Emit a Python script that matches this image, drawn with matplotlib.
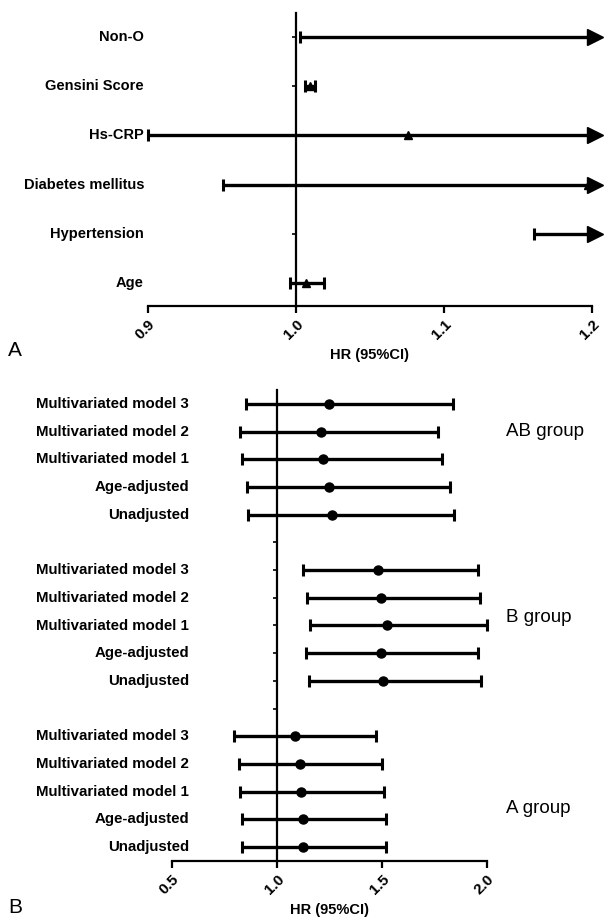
import numpy as np
import matplotlib.pyplot as plt
import matplotlib.transforms as mtransforms

plt.rcParams['font.family'] = ['Liberation Sans', 'DejaVu Sans']

# ---- panel A data (values off the right edge -> inf / nan)
a_labels = ["Non-O", "Gensini Score", "Hs-CRP", "Diabetes mellitus", "Hypertension", "Age"]
a_hr = [np.nan, 1.0097, 1.076, 1.197, np.nan, 1.0069]
a_low = [1.0025, 1.0064, 0.900, 0.951, 1.161, 0.9957]
a_high = [np.inf, 1.013, np.inf, np.inf, np.inf, 1.019]
a_ticks = [0.9, 1.0, 1.1, 1.2]

# ---- panel B data
b_rows = ["Multivariated model 3", "Multivariated model 2", "Multivariated model 1",
          "Age-adjusted", "Unadjusted"]
b_groups = ["AB group", "B group", "A group"]
ab_hr = [1.249, 1.209, 1.220, 1.249, 1.262]
ab_low = [0.851, 0.826, 0.833, 0.855, 0.864]
ab_high = [1.836, 1.768, 1.785, 1.825, 1.845]
bg_hr = [1.482, 1.497, 1.524, 1.493, 1.506]
bg_low = [1.123, 1.143, 1.159, 1.139, 1.150]
bg_high = [1.956, 1.967, 1.998, 1.956, 1.972]
ag_hr = [1.084, 1.108, 1.115, 1.123, 1.123]
ag_low = [0.794, 0.820, 0.826, 0.833, 0.831]
ag_high = [1.471, 1.501, 1.510, 1.517, 1.517]
b_ticks = [0.5, 1.0, 1.5, 2.0]

LW = 2.4
fig = plt.figure(figsize=(6.04, 9.22), dpi=100)


def style_axes(ax, xlim, ylim, yticks, xticks):
    ax.set_xlim(*xlim)
    ax.set_ylim(*ylim)
    for s in ['top', 'right']:
        ax.spines[s].set_visible(False)
    ax.spines['left'].set_position(('data', 1.0))
    ax.spines['left'].set_linewidth(1.6)
    ax.spines['bottom'].set_linewidth(1.6)
    ax.set_yticks(yticks)
    ax.set_yticklabels([])
    ax.tick_params(axis='y', length=3, width=1.2)
    ax.set_xticks(xticks)
    ax.set_xticklabels(["%.1f" % t for t in xticks], rotation=45, ha='right', va='top',
                       rotation_mode='anchor', fontsize=11, fontweight='bold')
    ax.tick_params(axis='x', length=5, width=1.6, pad=3)
    ax.patch.set_alpha(0)


def draw_row(ax, y, lo, hi, hr, xmax, marker, ms):
    right = min(hi, xmax)
    ax.plot([lo, right], [y, y], color='black', lw=LW, clip_on=False, solid_capstyle='butt')
    ax.plot(lo, y, marker='|', ms=9, mew=2.2, color='black', clip_on=False)
    if np.isfinite(hi):
        ax.plot(hi, y, marker='|', ms=9, mew=2.2, color='black', clip_on=False)
    else:
        ax.plot(xmax + 0.002, y, marker='>', ms=11, color='black', clip_on=False)
    if np.isfinite(hr):
        ax.plot(hr, y, marker=marker, ms=ms, color='black', clip_on=False)


# ---------------- Panel A
axA = fig.add_axes([148 / 604, 1 - 306 / 922, 444 / 604, 293 / 922])
ya = np.arange(len(a_labels), 0, -1)
style_axes(axA, (0.9, 1.2), (0.53, 6.49), ya, a_ticks)
trA = mtransforms.blended_transform_factory(axA.transAxes, axA.transData)
for y, lab, lo, hi, hr in zip(ya, a_labels, a_low, a_high, a_hr):
    draw_row(axA, y, lo, hi, hr, 1.2, '^', 6)
    axA.text(-0.009, y, lab, transform=trA, ha='right', va='center',
             fontsize=10.5, fontweight='bold')
axA.text(0.5, -49 / 293, "HR (95%CI)", transform=axA.transAxes, ha='center',
         va='center', fontsize=10.5, fontweight='bold')
fig.text(8 / 604, 1 - 350 / 922, "A", fontsize=15, va='center')

# ---------------- Panel B
axB = fig.add_axes([172 / 604, 1 - 861 / 922, 315 / 604, 471 / 922])
group_y = [17, 11, 5]
group_data = [(ab_hr, ab_low, ab_high), (bg_hr, bg_low, bg_high), (ag_hr, ag_low, ag_high)]
label_y = [16, 9.3, 2.4]
style_axes(axB, (0.5, 2.0), (0.5, 17.5), np.arange(1, 18), b_ticks)
trB = mtransforms.blended_transform_factory(axB.transAxes, axB.transData)
for top, (hrs, lows, highs), gname, gy in zip(group_y, group_data, b_groups, label_y):
    for i, lab in enumerate(b_rows):
        y = top - i
        draw_row(axB, y, lows[i], highs[i], hrs[i], 2.0, 'o', 6.5)
        axB.text(0.054, y, lab, transform=trB, ha='right', va='center',
                 fontsize=10.8, fontweight='bold')
    axB.text(1.06, gy, gname, transform=trB, ha='left', va='center', fontsize=13.5)
axB.text(0.5, -49 / 471, "HR (95%CI)", transform=axB.transAxes, ha='center',
         va='center', fontsize=10.5, fontweight='bold')
fig.text(8 / 604, 1 - 907 / 922, "B", fontsize=15, va='center')

fig.savefig("out.png", dpi=100)
